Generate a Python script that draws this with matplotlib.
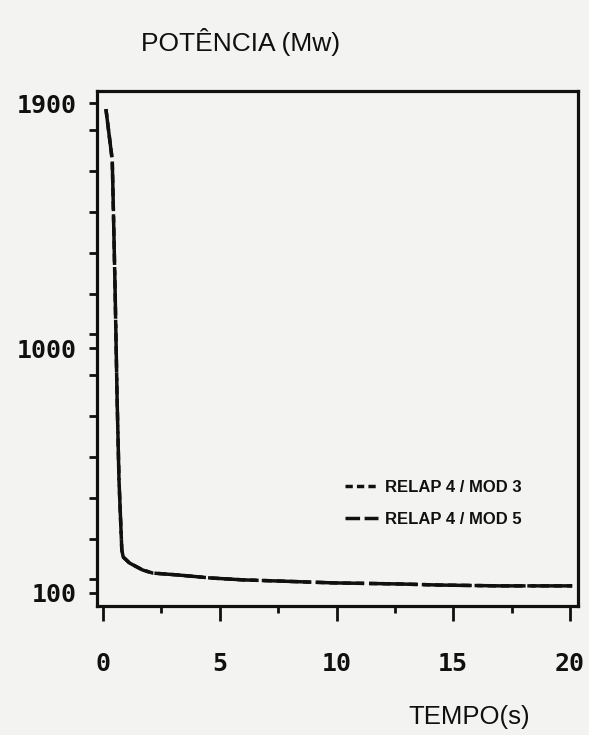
import matplotlib
matplotlib.use("Agg")
import matplotlib.pyplot as plt
from matplotlib.ticker import MultipleLocator, FixedLocator

# ---- data ----
tempo_s = [0.12, 0.39, 0.43, 0.51, 0.60, 0.68, 0.80, 0.86, 1.13, 1.70, 2.13,
           3.21, 4.61, 6.00, 7.45, 9.85, 12.7, 14.4, 17.0, 20.1]
pot_mod3 = [1878, 1691, 1544, 1224, 809, 515, 258, 232, 210, 184, 173,
            166, 155, 148, 144, 137, 133, 129, 126, 126]
pot_mod5 = [1878, 1691, 1544, 1224, 809, 515, 258, 232, 210, 184, 173,
            166, 155, 148, 144, 137, 133, 129, 126, 126]
labels = ["RELAP 4 / MOD 3", "RELAP 4 / MOD 5"]
x_major = [0, 5, 10, 15, 20]
y_major = [100, 1000, 1900]

paper = "#f3f3f1"
ink = "#101010"

fig = plt.figure(figsize=(5.89, 7.35), dpi=100, facecolor=paper)
ax = fig.add_axes([0.164, 0.1755, 0.817, 0.7005])
ax.set_facecolor(paper)

l3, = ax.plot(tempo_s, pot_mod3, color=ink, lw=2.5, dashes=(2.4, 1.4),
              dash_capstyle="butt")
l5, = ax.plot(tempo_s, pot_mod5, color=ink, lw=2.5, dashes=(14, 1.5),
              dash_capstyle="butt")

ax.set_xlim(-0.28, 20.34)
ax.set_ylim(52, 1944)

for s in ax.spines.values():
    s.set_linewidth(2.3)
    s.set_color(ink)

ax.xaxis.set_major_locator(FixedLocator(x_major))
ax.xaxis.set_minor_locator(MultipleLocator(2.5))
ax.yaxis.set_major_locator(FixedLocator(y_major))
ax.yaxis.set_minor_locator(MultipleLocator(150))

mono = ["DejaVu Sans Mono"]
ax.tick_params(axis="x", which="major", direction="out", length=11, width=2,
               pad=22, labelsize=18, colors=ink)
ax.tick_params(axis="x", which="minor", direction="out", length=5, width=2, colors=ink)
ax.tick_params(axis="y", which="major", direction="out", length=6, width=2,
               pad=8, labelsize=18, colors=ink)
ax.tick_params(axis="y", which="minor", direction="out", length=6, width=2, colors=ink)
for lab in ax.get_xticklabels() + ax.get_yticklabels():
    lab.set_family(mono)
    lab.set_fontweight("bold")

fig.text(141 / 589, 1 - 42 / 735, "POTÊNCIA (Mw)", family=["Liberation Sans", "DejaVu Sans"],
         fontsize=19, color=ink, ha="left", va="center")
fig.text(530 / 589, 1 - 717 / 735, "TEMPO(s)", family=["Liberation Sans", "DejaVu Sans"],
         fontsize=18.5, color=ink, ha="right", va="center")

leg = ax.legend([l3, l5], labels, loc="upper left",
                bbox_to_anchor=(345 / 589, 1 - 480 / 735), bbox_transform=fig.transFigure,
                frameon=False, borderpad=0, borderaxespad=0, handlelength=2.0,
                handletextpad=0.4, labelspacing=1.0,
                prop={"family": ["Liberation Sans", "DejaVu Sans"], "weight": "bold", "size": 12})
lines = leg.get_lines()
lines[0].set_dashes((2.1, 1.2))
lines[1].set_dashes((4.2, 1.3))
for t in leg.get_texts():
    t.set_color(ink)

fig.savefig("out.png", dpi=100, facecolor=paper)
